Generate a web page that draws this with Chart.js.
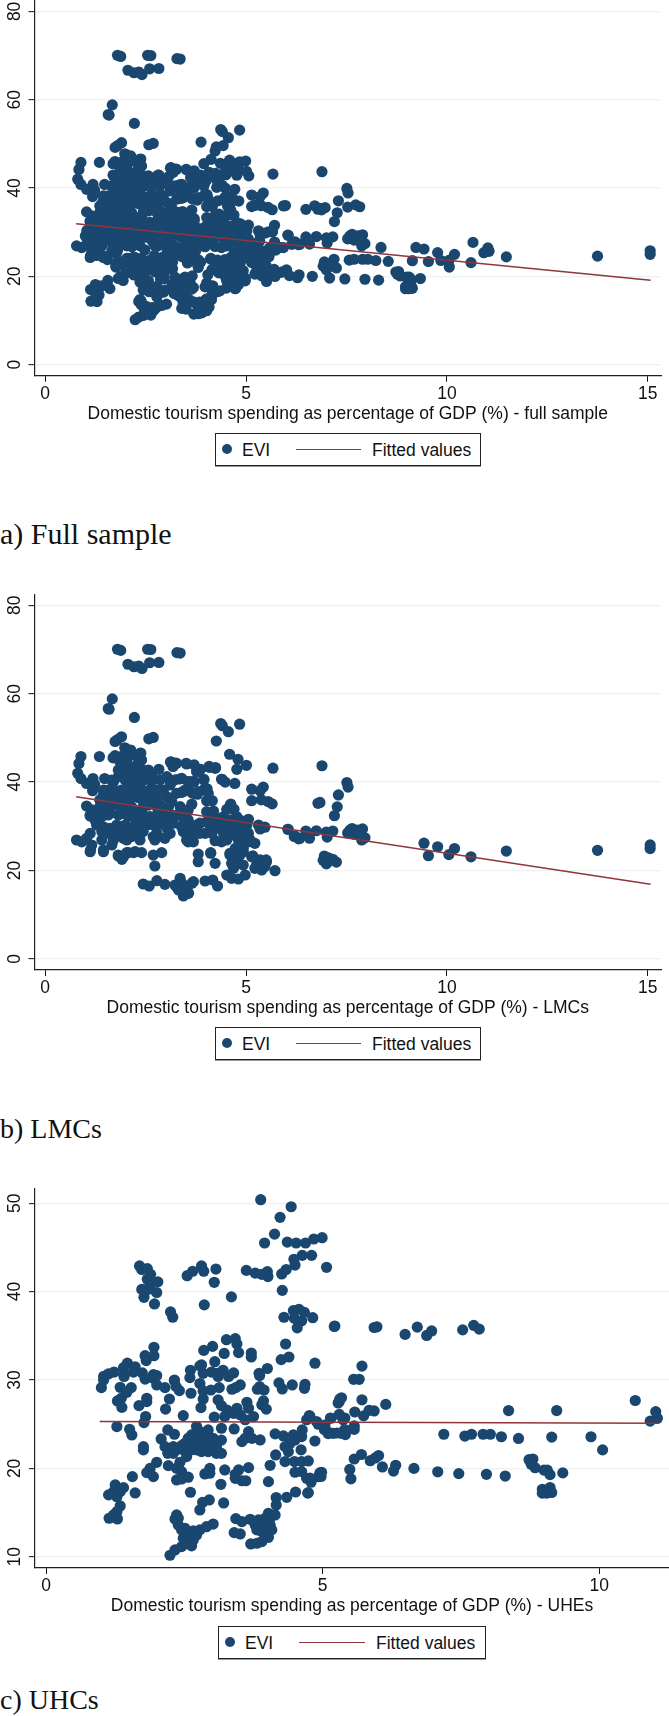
<!DOCTYPE html>
<html><head><meta charset="utf-8">
<script src="https://cdn.jsdelivr.net/npm/chart.js@4"></script>
<style>
html,body{margin:0;padding:0;background:#fff;}
#page{position:relative;width:669px;height:1716px;overflow:hidden;background:#fff;}
canvas{position:absolute;left:0;}
.lg{position:absolute;box-sizing:border-box;border:1px solid #222;box-shadow:0 1px 0 #999;background:#fff;font:17.5px "Liberation Sans",Arial,sans-serif;color:#111;}
.lg span{position:absolute;line-height:20px;white-space:nowrap;}
.cap{position:absolute;left:0;font-family:"Liberation Serif",serif;line-height:36px;color:#111;white-space:nowrap;}
</style></head><body><div id="page"></div>
<script>
const xAxisTitles=["Domestic tourism spending as percentage of GDP (%) - full sample","Domestic tourism spending as percentage of GDP (%) - LMCs","Domestic tourism spending as percentage of GDP (%) - UHEs"];
const captions=["a) Full sample","b) LMCs","c) UHCs"];
const seriesNames=["EVI","Fitted values"];
const xTicksFull=[0,5,10,15];
const yTicksFull=[0,20,40,60,80];
const xTicksUhe=[0,5,10];
const yTicksUhe=[10,20,30,40,50];
const fitFull=[[0.77,31.9],[15.07,19.1]];
const fitLmc=[[0.77,36.7],[15.07,16.9]];
const fitUhe=[[0.97,25.3],[11.08,25.1]];
const lmcPoints=[[1.8,70.06],[1.88,69.8],[2.55,70.06],[2.63,70],[3.28,69.3],[3.36,69.2],[2.6,67],[2.83,67.07],[2.06,66.67],[2.21,66.1],[2.33,66.26],[2.41,65.7],[1.67,58.83],[1.57,56.65],[1.59,56.5],[2.22,54.63],[4.37,53.25],[4.41,52.77],[4.84,53.1],[4.56,51.4],[4.26,49.3],[1.9,50.26],[1.8,49.6],[1.74,49.2],[2.58,49.8],[2.69,50.1],[4.59,46.3],[4.8,45.17],[4.77,42.9],[5.01,43.8],[5.67,43.15],[6.89,43.7],[1.35,45.8],[0.89,45.8],[0.84,44.2],[0.81,42],[0.89,40.8],[1.48,40.8],[1.19,40.8],[1.03,39.7],[1.23,39.5],[1.18,38.06],[1.98,47.76],[2.11,47.1],[2.38,46.55],[1.74,46],[1.69,45.5],[2.22,46.1],[1.93,44.9],[3.12,44.5],[3.25,44.3],[3.18,43.55],[3.52,44.1],[3.71,43.9],[4.08,43.55],[4.24,43.3],[2.83,42.9],[3.78,42.5],[2.61,41.7],[4.4,40.65],[4.48,40],[4.72,39.7],[3.34,40.7],[3.12,39.7],[3.71,40.1],[3.95,40.65],[4.03,38.5],[3.79,37.25],[3.65,37.66],[3.39,37.66],[5.14,38.4],[5.43,38.87],[5.35,38.06],[5.14,35.8],[5.38,36],[5.55,35.6],[5.65,35.07],[4.02,35.8],[4.16,35.8],[3.65,35],[7.51,39.9],[7.54,38.87],[7.3,37.1],[7.27,34.4],[7.2,32.4],[6.84,35.4],[6.79,35.2],[4.61,34.83],[4.56,34],[4.7,33.86],[6.04,29.33],[6.2,27.7],[6.31,27.15],[6.49,28.93],[6.58,27.3],[6.75,29],[7,28.7],[7.16,28.93],[7.02,27.56],[7.53,28.5],[7.64,29.5],[7.69,28.2],[7.9,29.4],[7.78,29.17],[7.88,26.9],[7.96,27.4],[7.59,29.17],[7.82,28.36],[6.95,23.27],[7.05,22.87],[6.92,22.3],[7,21.5],[7.11,22.3],[7.25,21.9],[7.16,22.55],[9.43,26.18],[9.54,23.35],[9.77,25.37],[10.05,23.6],[10.19,24.97],[10.6,23.1],[11.48,24.4],[13.75,24.57],[15.06,25.78],[15.06,24.97],
[1.12,24.26],[1.45,24.26],[1.82,23.28],[1.91,22.53],[2.03,24.04],[2.2,24.04],[2.4,24.04],[2.69,23.5],[2.9,24.04],[2.73,21.02],[3.81,23.74],[3.81,22],[4.12,24.04],[4.23,21.62],[2.44,16.95],[2.59,16.5],[2.78,17.7],[2.98,16.87],[3.36,18.23],[3.4,17.1],[3.27,16.34],[3.65,17.1],[3.69,17.47],[3.23,16.72],[3.48,16.2],[3.57,14.84],[3.44,14.23],[3.32,15.6],[3.98,17.63],[4.17,17.85],[4.29,16.5],[4.6,23.9],[4.64,21.62],[4.69,20.5],[4.52,18.98],[4.64,18.23],[4.81,18.08],[4.98,18.98],[4.85,23.5],[5.14,23.13],[5.27,21.62],[5.22,20.5],[5.39,20.12],[5.51,22],[5.47,20.87],[5.72,19.96],[5.35,22.4],[4.77,22.4],[4.93,21.25],
[3.51,44.25],[3.77,42.36],[3.87,42.9],[4.09,43.35],[4.23,43.1],[3.4,40.85],[3.69,40.1],[3.95,40.5],[3.6,40.1],[4.39,40.63],[3.44,37.84],[3.69,37.46],[3.81,37.84],[3.98,38.6],[4.06,37.46],[4.62,35.05],[4.52,33.84],[4.68,33.84],[4.19,33.46],[4.02,33.3],[3.52,32.94],[3.4,33.3],[4.35,31.8],[4.6,31.4],[4.85,31.4],[5.06,31.6],[5.31,30.3],[5.47,29.8],[5.35,29.4],[6.05,29.3],[6.22,27.8],[6.34,27.28],[4.02,31.05],[4.19,30.3],[3.85,30.7],[3.61,30.3],[3.4,29.9],[4.35,29.54],[4.6,29.9],[4.81,29.54],[5.02,28.8],[4.68,28.03],[4.93,27.28],[5.22,26.15],[5.06,26.5],[4.39,26.5],[4.23,26.75],[3.65,27.28],[3.56,26.5],[3.69,26.5],[4.6,23.5],[4.75,23.9],[4.93,24.26],[4.81,25.4],[4.12,23.9],[5.17,23.3],[5.5,22.4],[3.44,28.8],[3.77,28.8],[3.98,28.4],
[2,47.64],[2.13,47.27],[2.36,46.5],[2.24,46.13],[1.86,44.6],[2.07,43.5],[2.28,43.87],[1.86,42],[2.03,41.2],[2.28,42],[2.44,42.74],[2.48,40.5],[2.65,41.6],[3.13,44.6],[3.27,44.25],[3.19,43.64],[3.03,41.23],[3.23,40.5],[3.56,40.1],[1.7,40.1],[1.82,41.23],[2.11,39.35],[2.36,38.97],[2.65,38.6],[2.86,40.5],[2.94,38.2],[3.11,39.35],[3.27,37.46],[3.48,38.2],[1.57,38.2],[1.45,37.1],[1.36,35.95],[1.78,36.7],[2.03,37.46],[2.24,36.7],[2.53,36.33],[2.78,36.33],[2.86,34.8],[3.03,36.7],[3.15,35.6],[1.03,34.6],[1.16,33.7],[1.32,33.3],[1.12,32.34],[1.24,31.43],[1.41,32.2],[1.7,34.8],[1.99,34.44],[1.95,32.94],[2.28,33.3],[2.57,34.8],[2.61,32.2],[2.28,31.8],[2.07,32.2],[3.03,32.56],[3.27,32.56],[3.44,31.8],[3.56,33.7],[2.94,33.7],[1.82,32.56],[1.61,32.94],[1.53,34.07],[2.48,31.8],[2.86,31.05],[3.19,30.7],[3.4,29.9],[3.56,31.43],[1.45,29.9],[1.61,29.54],[1.78,29.54],[1.99,30.3],[2.15,29.54],[2.4,29.9],[2.53,30.3],[2.69,27.66],[2.82,27.66],[2.98,27.28],[3.52,26.9],[2.78,29.9],[3.03,29.54],[3.44,28.8],[1.41,28.8],[1.12,28.4],[0.78,26.9],[0.91,26.5],[1.03,27.28],[1.16,25.77],[1.13,24.64],[1.41,26.9],[1.45,24.64],[1.66,25.77],[1.74,28.03],[1.95,27.28],[2.15,27.66],[2.44,28.8],[1.82,23.5],[1.95,23.13],[2.07,24.04],[2.24,24.26],
[1.95,46.1],[2.11,46.1],[2.03,45],[2.4,45],[1.82,42.74],[1.99,42.74],[2.15,42.74],[2.36,42.74],[2.57,42.74],[1.65,40.48],[1.99,40.48],[2.2,40.48],[2.4,40.48],[2.69,40.48],[1.45,38.2],[1.7,38.2],[1.9,38.2],[2.15,38.2],[2.4,38.2],[2.61,38.2],[2.82,38.2],[1.41,36.33],[1.61,36.33],[1.86,36.33],[2.07,36.33],[2.36,36.33],[2.65,36.33],[1.36,34.44],[1.57,34.44],[1.86,34.44],[2.15,34.44],[2.44,34.44],[2.78,34.44],[3.07,34.44],[3.36,34.44],[1.12,32.56],[1.32,32.56],[1.57,32.56],[2.07,32.56],[2.44,32.56],[2.78,32.56],[3.15,32.56],[1.28,30.3],[1.78,30.3],[2.24,30.3],[2.69,30.3],[3.03,30.3],[1.53,28.4],[1.95,28.4],[2.32,28.4],[2.78,28.4],[3.11,28.4],[1.7,26.9],[2.03,26.9],[2.36,26.9],[2.73,26.9],
[4.19,32.18],[4.44,32.18],[4.77,32.18],[3.77,30.3],[4.1,30.3],[4.44,30.3],[4.73,30.3],[5.02,30.3],[3.52,28.4],[3.85,28.4],[4.15,28.4],[4.44,28.4],[4.77,28.4],[5.06,28.4],[4.52,26.9],[4.81,26.9],[5.1,26.9],[4.73,25],[4.93,25]];
const uhePoints=[[3.88,50.4],[4.43,49.6],[4.23,48.4],[4.13,46.5],[3.95,45.5],[4.36,45.6],[4.52,45.5],[4.69,45.5],[4.84,45.95],[4.99,46.1],[4.8,44.1],[4.63,44.1],[4.48,43.65],[4.5,43],[4.34,42.5],[4.26,42],[5.07,42.75],[3.62,42.4],[3.78,42.1],[3.9,41.95],[4,42.25],[4.01,41.7],[4.27,40.14],[3.35,39.4],[2.86,38.5],[3.04,41.05],[3.07,42.55],[2.81,42.9],[2.85,42.3],[2.65,42.3],[2.55,41.8],[1.69,42.9],[1.73,42.5],[1.83,42.6],[1.89,41.95],[1.83,41.4],[2.02,41.1],[1.88,40.75],[1.73,40.25],[1.85,40.25],[2,39.9],[1.77,39.35],[1.96,38.6],[2.25,37.7],[2.29,37.1],[4.3,37.1],[4.47,37.85],[4.57,38],[4.67,37.65],[4.49,36.97],[4.62,36.7],[4.82,37.05],[4.54,35.9],[5.22,36.1],[4.33,34.07],[4.39,32.6],[4.25,32.3],[4.86,31.9],[4,31.3],[3.85,30.75],[3.26,34.56],[3.42,34.67],[3.45,34.07],[3.48,33.1],[3.71,33.05],[3.71,32.6],[3.22,33],[3.01,33.8],[2.85,33.35],[3.05,32.07],[2.81,31.7],[2.78,31.6],[3.2,31.1],[3.39,30.8],[2.61,31.1],[2.84,30.75],[2.99,30.9],[3.1,30.75],[1.95,33.7],[1.95,32.75],[1.79,32.75],[1.81,32.2],[1.47,31.9],[1.4,31.4],[1.61,31.5],[1.58,30.9],[1.23,30.9],[1.13,30.7],[1.04,30.4],[1.41,30.55],[1.74,30.8],[1.94,30.6],[2,30.5],[2.32,30],
[1,29.14],[1.04,30],[1.41,30.4],[1.79,30.1],[1.94,30.2],[2,29.44],[2.15,29.14],[2.32,29.9],[2.35,29.25],[2.41,28.8],[2.6,30.27],[2.62,28.5],[2.78,29.6],[2.84,28.76],[2.98,28.87],[3.13,29.14],[2.84,27.85],[2.8,26.87],[3.11,30.4],[3.3,30.4],[3.36,28.95],[3.51,29.44],[3.43,29.14],[3.86,29.25],[3.82,28.95],[3.94,28.87],[3.86,30.5],[4.21,29.67],[4.27,28.99],[4.45,29.44],[4.68,29.5],[4.67,29.06],[1.34,29.17],[1.54,29.14],[1.46,28.6],[1.36,27.93],[1.29,27.63],[1.37,26.9],[1.82,27.93],[1.82,27.55],[1.68,27.1],[2.23,27.85],[2.16,26.7],[2.48,25.97],[1.8,25.86],[1.77,25.18],[1.28,24.73],[1.51,24.42],[1.55,23.78],[1.76,22.46],[1.76,22.09],[3.11,27.74],[3.17,27.1],[3.27,26.6],[3.45,26.8],[3.63,27.48],[3.66,26.8],[3.93,27.63],[3.9,27.2],[3.98,26.7],[3.04,25.8],[3.23,25.86],[3.39,26.23],[3.51,26.05],[3.75,25.86],[3.6,25.5],[5.31,27.85],[5.28,27.4],[4.77,25.86],[4.71,25.5],[4.89,25.3],[5.15,25.67],[5.37,25.5],[5.04,24.9],[5.1,24.1],[5.19,23.97],[5.34,23.97],
[2.72,24.73],[2.2,24.35],[2.32,23.86],[2.63,23.78],[2.78,24.16],[2.93,24.35],[3.17,24.54],[3.4,24.46],[3.66,24.16],[4.14,23.9],[4.29,23.67],[4.47,23.78],[4.63,24.35],[4.62,23.6],[4.5,23.2],[4.86,23.1],[3.87,23.22],[3.72,23.4],[3.54,23.03],[3.6,23.4],[2.08,23.33],[2.15,22.46],[2.2,21.7],[2.3,21.7],[2.3,22.46],[2.45,22.57],[2.57,23.4],[2.66,23.03],[2.72,22.09],[2.78,23.4],[2.87,22.84],[2.96,23.4],[2.93,21.9],[3.02,22.65],[3.08,21.7],[3.17,23.2],[3.17,21.7],[2.81,23.78],[2.54,21.33],[2.57,22.46],[4.32,22.46],[4.41,22.84],[4.38,21.9],[4.61,22.09],[4.15,21.52],[4.32,20.77],
[4.49,20.77],[4.62,20.77],[4.74,20.84],[4.05,20.35],[3.66,20.09],[3.48,19.82],[3.23,19.82],[2.96,20],[2.96,19.45],[2.87,19.37],[2,20.69],[2.21,20.31],[2.42,20.69],[1.88,20],[1.82,19.52],[1.94,19.07],[1.56,19.07],[2.36,20],[2.45,19.63],[2.57,19],[2.36,18.69],[2.45,18.8],[3.16,18.2],[3.42,19.33],[3.42,18.88],[3.54,18.6],[3.61,18.6],[4.02,18.5],[4.5,19.56],[4.62,19.63],[4.71,18.88],[4.79,18.43],[4.92,19.07],[4.98,19.56],
[1.25,18.13],[1.4,17.82],[1.13,17],[1.22,17.37],[1.34,17.37],[1.28,16.8],[1.61,17.22],[1.34,15.75],[1.28,15.1],[1.14,14.36],[1.29,14.28],[1.22,14.73],[2.61,17.3],[2.95,16.43],[2.83,16.17],[2.78,15.3],[3.21,16.09],[4.16,16.7],[4.35,16.73],[4.51,17.33],[4.74,17.26],[4.16,15.86],[4.02,14.92],[4.14,14.73],[2.36,14.73],[2.33,14.28],[2.39,13.6],[3.02,13.7],[2.9,13.4],[3.43,14.32],[3.69,14.24],[3.84,14.17],[3.96,14.36],[3.54,13.98],[3.78,13.6],[3.81,13.04],[4.05,13.6],[3.93,13.8],[4.08,13.04],[3.4,12.73],[3.51,12.58],[4.02,12.2],[3.9,11.72],[3.81,11.53],[3.7,11.45],[2.66,12.92],[2.54,12.85],[2.48,12.09],[2.66,11.9],[2.78,13.04],[2.63,11.23],[2.45,11.15],[2.33,10.77],[2.24,10.17],[2.57,12.47],[2.72,12.47],
[5.21,36.06],[5.93,35.94],[5.98,36.02],[6.49,35.16],[6.71,35.98],[6.88,35.04],[6.97,35.55],[7.53,35.67],[7.73,36.18],[7.83,35.75],[5.71,31.57],[5.56,30.08],[5.66,30.08],[5.34,27.99],[5.3,27.56],[5.71,27.76],[6.14,27.24],[5.58,26.38],[5.84,26.57],[5.93,26.5],[5.74,25.94],[4.76,25.98],[5.3,26.1],[5.14,25.7],[5.4,25.7],[8.36,26.54],[9.23,26.54],[10.65,27.68],[11.02,26.42],[10.92,25.35],[11.05,25.67],[7.19,23.86],[7.57,23.66],[7.69,23.86],[7.9,23.86],[8.03,23.86],[8.23,23.58],[8.54,23.39],[9.14,23.54],[9.85,23.58],[10.06,22.09],[5.1,23.94],[5.41,23.82],[5.57,24.41],[5.57,21.06],[5.7,21.57],[5.86,20.87],[5.95,21.18],[6.01,21.46],[6.08,20.16],[6.32,20.35],[6.28,19.69],[6.65,20],[7.08,19.61],[7.46,19.41],[7.96,19.33],[8.3,19.13],[8.73,20.98],[8.8,21.06],[8.77,20.47],[8.84,20.08],[9,19.8],[9.06,19.8],[9.11,19.29],[9.34,19.49],[8.97,17.64],[8.97,17.2],[9.11,17.83],[9.14,17.28],[9.05,17.2],[5.49,19.88],[5.51,18.82],[4.95,19.49],[4.97,19.09],[4.77,18.9],[4.73,17.2],[5.57,24.8],[5.4,24.4],[5.26,24],[4.92,25],[5.03,24.4],
[2.51,22.84],[2.66,23.78],[2.75,22.65],[2.84,23.59],[2.9,22.46],[3.02,23.4],[3.08,22.46],[2.63,22.09],[2.81,21.9],[2.36,22.09],[2.48,22.09],[2.51,13.22],[2.57,11.72],[2.51,11.53],[2.69,12.85],[2.39,14.36],[2.45,13.04],[3.96,13.04],[3.9,12.85],[4.05,14.36]];
const fullPoints=[...lmcPoints,...uhePoints];

const NAVY="#1a476f",MAROON="#90353b",GRID="#eaf2f3",INK="#111";
const FONT='"Liberation Sans",Arial,sans-serif';
const TEXT=17.5;
const page=document.getElementById('page');
const panels=[
 {pts:fullPoints,fit:fitFull,title:xAxisTitles[0],cap:captions[0],xt:xTicksFull,yt:yTicksFull,top:0,plotH:375.7,titleY:414,left:34.5,right:661,xr:[-0.266,15.33],yr:[-2.51,82.58],
  lg:{x:215,y:433,w:266,h:33,dot:11,evi:26,l1:80,l2:145,fv:156},capTop:516,capSize:30},
 {pts:lmcPoints,fit:fitLmc,title:xAxisTitles[1],cap:captions[1],xt:xTicksFull,yt:yTicksFull,top:594,plotH:376,titleY:1007.5,left:34.5,right:661,xr:[-0.266,15.33],yr:[-2.51,82.56],
  lg:{x:215,y:1027,w:266,h:33,dot:11,evi:26,l1:80,l2:145,fv:156},capTop:1111,capSize:28},
 {pts:uhePoints,fit:fitUhe,title:xAxisTitles[2],cap:captions[2],xt:xTicksUhe,yt:yTicksUhe,top:1188,plotH:380,titleY:1606,left:35,right:669,xr:[-0.2,11.26],yr:[8.73,51.72],
  lg:{x:218,y:1626,w:268,h:33,dot:11,evi:26,l1:80,l2:146,fv:157},capTop:1682,capSize:28}
];
function noPad(s){s.paddingTop=0;s.paddingBottom=0;s.paddingLeft=0;s.paddingRight=0;}
panels.forEach(p=>{
 const c=document.createElement('canvas');
 const H=Math.round(p.titleY+10-p.top);
 c.width=669;c.height=H;c.style.top=p.top+'px';c.style.width='669px';c.style.height=H+'px';
 page.appendChild(c);
 new Chart(c,{type:'scatter',data:{datasets:[
  {label:seriesNames[0],data:p.pts.map(a=>({x:a[0],y:a[1]})),backgroundColor:NAVY,borderWidth:0,pointRadius:5.6,pointBorderWidth:0,showLine:false,order:2},
  {label:seriesNames[1],data:p.fit.map(a=>({x:a[0],y:a[1]})),borderColor:MAROON,borderWidth:1.4,pointRadius:0,showLine:true,fill:false,order:1}
 ]},options:{responsive:false,animation:false,devicePixelRatio:1,layout:{autoPadding:false,padding:{left:0,top:0,bottom:0,right:669-p.right}},
  plugins:{legend:{display:false},tooltip:{enabled:false}},
  scales:{
   x:{type:'linear',min:p.xr[0],max:p.xr[1],
    afterBuildTicks:s=>{s.ticks=p.xt.map(v=>({value:v}));},
    afterFit:s=>{s.height=H-p.plotH;noPad(s);},
    grid:{drawOnChartArea:false,drawTicks:true,tickLength:6,tickColor:INK,tickWidth:1},
    border:{color:'#222',width:1.2},
    ticks:{color:INK,font:{family:FONT,size:TEXT},padding:2,maxRotation:0,autoSkip:false,callback:v=>String(v)},
    title:{display:true,text:p.title,color:INK,font:{family:FONT,size:TEXT,lineHeight:20/TEXT},padding:0}},
   y:{type:'linear',min:p.yr[0],max:p.yr[1],
    afterBuildTicks:s=>{s.ticks=p.yt.map(v=>({value:v}));},
    afterFit:s=>{s.width=p.left;noPad(s);},
    grid:{color:GRID,lineWidth:1.3,drawTicks:true,tickLength:6,tickColor:INK,tickWidth:1},
    border:{color:'#222',width:1.2},
    ticks:{color:INK,font:{family:FONT,size:TEXT},padding:4,minRotation:90,maxRotation:90,crossAlign:'center',autoSkip:false,callback:v=>String(v)}}
  }}});
 const g=p.lg,d=document.createElement('div');
 d.className='lg';d.style.cssText=`left:${g.x}px;top:${g.y}px;width:${g.w}px;height:${g.h}px`;
 d.innerHTML=`<span style="left:${g.dot-5}px;top:${g.h/2-6.5}px;width:10px;height:10px;border-radius:50%;background:${NAVY}"></span>`+
  `<span style="left:${g.evi}px;top:${g.h/2-11}px">${seriesNames[0]}</span>`+
  `<span style="left:${g.l1}px;top:${g.h/2-2}px;width:${g.l2-g.l1}px;height:1.5px;background:${MAROON}"></span>`+
  `<span style="left:${g.fv}px;top:${g.h/2-11}px">${seriesNames[1]}</span>`;
 page.appendChild(d);
 const t=document.createElement('div');t.className='cap';t.textContent=p.cap;t.style.top=p.capTop+'px';t.style.fontSize=p.capSize+'px';page.appendChild(t);
});
</script></body></html>
